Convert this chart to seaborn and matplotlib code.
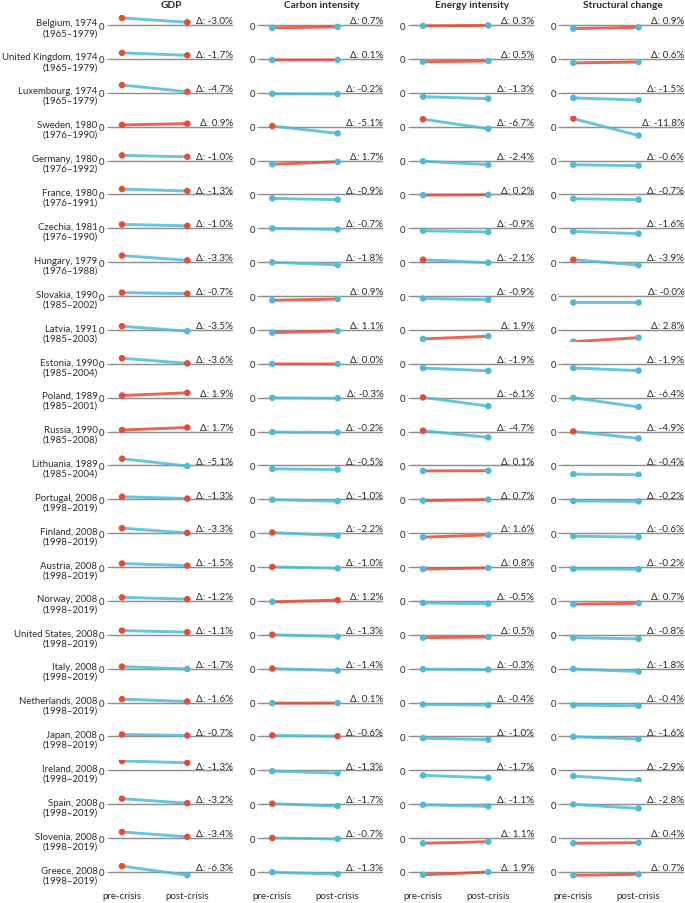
import numpy as np
import pandas as pd
import matplotlib
matplotlib.use("Agg")
import matplotlib.pyplot as plt
import seaborn as sns

sns.set_theme(style="white")
plt.rcParams['font.family'] = ['Lato', 'DejaVu Sans']

# ---------------- data ----------------
countries = ["Belgium, 1974", "United Kingdom, 1974", "Luxembourg, 1974", "Sweden, 1980",
             "Germany, 1980", "France, 1980", "Czechia, 1981", "Hungary, 1979",
             "Slovakia, 1990", "Latvia, 1991", "Estonia, 1990", "Poland, 1989",
             "Russia, 1990", "Lithuania, 1989", "Portugal, 2008", "Finland, 2008",
             "Austria, 2008", "Norway, 2008", "United States, 2008", "Italy, 2008",
             "Netherlands, 2008", "Japan, 2008", "Ireland, 2008", "Spain, 2008",
             "Slovenia, 2008", "Greece, 2008"]
periods = ["(1965–1979)", "(1965–1979)", "(1965–1979)", "(1976–1990)", "(1976–1992)",
           "(1976–1991)", "(1976–1990)", "(1976–1988)", "(1985–2002)", "(1985–2003)",
           "(1985–2004)", "(1985–2001)", "(1985–2008)", "(1985–2004)"] + ["(1998–2019)"] * 12

indicators = ["GDP", "Carbon intensity", "Energy intensity", "Structural change"]
phases = ["pre-crisis", "post-crisis"]

gdp_pre = [4.9, 4.2, 5.4, 1.2, 3.6, 3.7, 2.7, 4.6, 2.4, 2.6, 3.9, 1.5, 1.1,
           4.7, 1.8, 3.5, 2.5, 2.5, 3.0, 1.5, 2.4, 1.4, 6.6, 3.9, 4.3, 4.1]
gdp_delta = [-3.0, -1.7, -4.7, 0.9, -1.0, -1.3, -1.0, -3.3, -0.7, -3.5, -3.6, 1.9, 1.7,
             -5.1, -1.3, -3.3, -1.5, -1.2, -1.1, -1.7, -1.6, -0.7, -1.3, -3.2, -3.4, -6.3]

carbon_pre = [-2.0, -0.8, -0.7, 0.4, -2.6, -2.8, -0.1, -0.1, -3.0, -1.9, -0.1, -0.1, -0.4,
              -2.4, -0.3, 0.5, 0.1, -0.6, 0.1, 0.1, -0.4, 0.8, -0.6, 0.4, 0.1, -0.2]
carbon_delta = [0.7, 0.1, -0.2, -5.1, 1.7, -0.9, -0.7, -1.8, 0.9, 1.1, 0.01, -0.3, -0.2,
                -0.5, -1.0, -2.2, -1.0, 1.2, -1.3, -1.4, 0.1, -0.6, -1.3, -1.7, -0.7, -1.3]

energy_pre = [-0.6, -2.0, -2.8, 5.2, -0.5, -0.5, -1.7, 1.7, -1.7, -6.3, -3.0, 0.2, 0.6,
              -3.8, -0.9, -2.8, -1.4, -1.4, -2.0, -0.3, -1.3, -1.2, -3.5, -0.4, -3.6, -1.95]
energy_delta = [0.3, 0.5, -1.3, -6.7, -2.4, 0.2, -0.9, -2.1, -0.9, 1.9, -1.9, -6.1, -4.7,
                0.1, 0.7, 1.6, 0.8, -0.5, 0.5, -0.3, -0.4, -1.0, -1.7, -1.1, 1.1, 1.9]

struct_pre = [-2.5, -2.8, -3.6, 5.6, -3.0, -3.0, -2.2, 1.8, -4.5, -8.2, -2.9, -0.1, 0.1,
              -6.1, -1.2, -2.1, -1.3, -2.3, -2.0, -0.2, -1.8, -0.2, -4.0, -0.1, -3.6, -2.3]
struct_delta = [0.9, 0.6, -1.5, -11.8, -0.6, -0.7, -1.6, -3.9, -0.01, 2.8, -1.9, -6.4, -4.9,
                -0.4, -0.2, -0.6, -0.2, 0.7, -0.8, -1.8, -0.4, -1.6, -2.9, -2.8, 0.4, 0.7]

pre_by_ind = dict(zip(indicators, [gdp_pre, carbon_pre, energy_pre, struct_pre]))
delta_by_ind = dict(zip(indicators, [gdp_delta, carbon_delta, energy_delta, struct_delta]))

records = []
for ind in indicators:
    for i, c in enumerate(countries):
        pre = pre_by_ind[ind][i]
        d = delta_by_ind[ind][i]
        for k, (ph, v) in enumerate(zip(phases, [pre, pre + d])):
            records.append(dict(indicator=ind, row=i, country=c, phase=ph, x=k, value=v,
                                delta=d, sign="pos" if v > 0 else "neg"))
df = pd.DataFrame(records)

# ---------------- layout ----------------
RED = "#E64B35"
BLUE = "#4DBBD5"
TXT = "#2b2b2b"
W, H = 685, 904
fig = plt.figure(figsize=(W / 100, H / 100), dpi=100)

zero0, step = 26.0, 33.88
above, below = 10.5, 12.0
ppu = 1.43
pre_x = [122.0, 272.3, 423.0, 573.3]
unit = 65.3
left_off, right_off = 12.5, 111.0

fs_lab = 6.95
fs_delta = 7.1
fs_tick = 7.0
for c, ind in enumerate(indicators):
    for r in range(len(countries)):
        zero = zero0 + step * r
        ax = fig.add_axes([(pre_x[c] - left_off) / W, 1 - (zero + below) / H,
                           (left_off + right_off) / W, (above + below) / H])
        sub = df[(df.indicator == ind) & (df.row == r)]
        d = sub.delta.iloc[0]
        ax.axhline(0, color="#e3e3e3", lw=1.8, zorder=1)
        ax.axhline(0, color="#909090", lw=0.8, zorder=1.1)
        sns.lineplot(data=sub, x="x", y="value", ax=ax, color=RED if d > 0 else BLUE,
                     lw=2.1, alpha=0.85, legend=False, zorder=2, sort=False,
                     estimator=None)
        sns.scatterplot(data=sub, x="x", y="value", hue="sign",
                        palette={"pos": RED, "neg": BLUE}, ax=ax, s=22,
                        linewidth=0, legend=False, zorder=3)
        ax.set_xlim(-left_off / unit, right_off / unit)
        ax.set_ylim(-below / ppu, above / ppu)
        ax.set_facecolor("none")
        sns.despine(ax=ax, left=True, bottom=True, top=True, right=True)
        ax.set_xlabel("")
        ax.set_ylabel("")
        ax.set_yticks([0])
        ax.set_yticklabels(["0"])
        ax.tick_params(axis="y", left=True, length=2.5, width=0.8, color="#909090",
                       pad=1.0, labelsize=fs_tick, labelcolor=TXT)
        if r == len(countries) - 1:
            ax.set_xticks([0, 1])
            ax.set_xticklabels(phases)
            ax.tick_params(axis="x", bottom=True, length=0, pad=4.8, labelsize=fs_tick,
                           labelcolor=TXT)
        else:
            ax.set_xticks([])
        ax.annotate(f"Δ: {d:.1f}%", xy=(1, 0), xycoords=("axes fraction", "data"),
                    xytext=(0, 1.3), textcoords="offset points", ha="right",
                    va="baseline", fontsize=fs_delta, color=TXT, annotation_clip=False)
        if c == 0:
            fig.text(97.5 / W, 1 - (zero + 0.5) / H, countries[r], ha="right",
                     va="baseline", fontsize=fs_lab, color=TXT)
            fig.text(97.5 / W, 1 - (zero + 10.3) / H, periods[r], ha="right",
                     va="baseline", fontsize=fs_lab, color=TXT)
    fig.text((pre_x[c] - left_off + (left_off + right_off) / 2) / W, 1 - 8.0 / H, ind,
             ha="center", va="baseline", fontsize=7.3, fontweight="bold", color=TXT)

fig.savefig("out.png", dpi=100)
